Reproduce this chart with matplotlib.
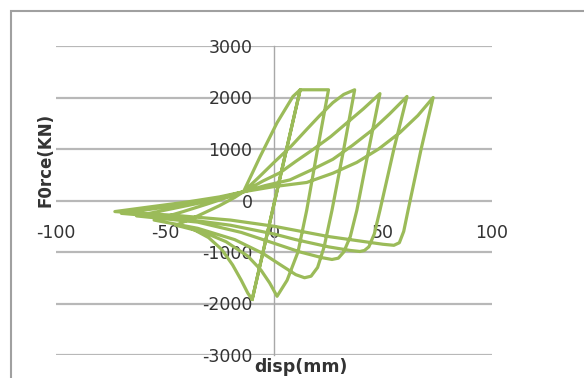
import numpy as np
import matplotlib.pyplot as plt
from matplotlib.patches import Rectangle

plt.rcParams['axes.unicode_minus'] = False

# hysteresis path (disp mm, force kN)
init_x = [-37, -30, -24, -19, -15, -12, -10, 12, 25]
init_y = [-560, -720, -950, -1250, -1550, -1800, -1920, 2150, 2150]

c1_x = [20, 15, 11, 6, 1.4, -2, -6, -12, -22, -32, -45]
c1_y = [1000, -190, -1000, -1550, -1860, -1600, -1350, -1080, -800, -620, -480]
r2_x = [-35, -25, -18, -14, -7, 0, 8, 15, 21, 27, 32, 37]
r2_y = [-300, -100, 60, 170, 450, 740, 1060, 1380, 1650, 1900, 2060, 2150]

c2_x = [32, 26.6, 23, 20, 17, 14, 10, 3, -5, -18, -35, -55]
c2_y = [1000, -190, -900, -1300, -1470, -1500, -1440, -1250, -1030, -760, -540, -380]
r3_x = [-42, -30, -20, -14, -5, 2.8, 10, 17.9, 26, 33.5, 41, 48.6]
r3_y = [-220, -60, 80, 170, 380, 540, 760, 990, 1240, 1510, 1780, 2075]

c3_x = [43.5, 38, 35, 32, 29.5, 26.6, 22, 12, 0, -15, -35, -63]
c3_y = [1000, -190, -700, -1000, -1120, -1145, -1110, -1000, -830, -620, -420, -300]
r4_x = [-48, -32, -20, -14, -4, 7.3, 17, 27, 36, 45.4, 53, 61]
r4_y = [-170, -30, 90, 170, 290, 400, 590, 800, 1070, 1380, 1680, 2020]

c4_x = [55, 48.6, 46, 43.5, 41.5, 39.4, 35, 25, 10, 0, -20, -45, -70]
c4_y = [1000, -190, -650, -900, -970, -990, -970, -900, -760, -650, -480, -340, -250]
r5_x = [-55, -38, -24, -14, 0, 15, 27, 38, 48, 57.8, 66, 73]
r5_y = [-160, -50, 60, 170, 270, 350, 530, 740, 1000, 1320, 1650, 2000]

c5_x = [67.5, 61.5, 59.5, 57.5, 55, 50, 40, 25, 10, 0, -20, -45, -73]
c5_y = [1000, -190, -600, -820, -870, -850, -790, -700, -580, -500, -380, -290, -215]
r6_x = [-58, -40, -25, -14, -6.4, 1.4, 8.7, 12, -10]
r6_y = [-130, -30, 70, 170, 850, 1510, 2020, 2150, -1920]

x_ticks = [-100, -50, 0, 50, 100]
y_ticks = [-3000, -2000, -1000, 0, 1000, 2000, 3000]

disp = np.concatenate([init_x, c1_x, r2_x, c2_x, r3_x, c3_x, r4_x, c4_x, r5_x, c5_x, r6_x])
force = np.concatenate([init_y, c1_y, r2_y, c2_y, r3_y, c3_y, r4_y, c4_y, r5_y, c5_y, r6_y])

fig = plt.figure(figsize=(5.84, 3.78), dpi=100)
ax = fig.add_axes([56/584, 1-355/378, 436/584, 309/378])

ax.plot(disp, force, color='#9BBB59', lw=2.3, solid_joinstyle='round', zorder=3)

ax.set_xlim(-100, 100)
ax.set_ylim(-3000, 3000)
ax.set_xticks(x_ticks)
ax.set_yticks(y_ticks)
ax.grid(axis='y', color='#b8b8b8', lw=1.6)
ax.grid(axis='x', visible=False)

for s in ['top', 'right', 'bottom']:
    ax.spines[s].set_visible(False)
ax.spines['left'].set_position(('data', 0))
ax.spines['left'].set_color('#a8a8a8')
ax.spines['left'].set_linewidth(1.0)
ax.spines['bottom'].set_position(('data', 0))

ax.tick_params(axis='x', length=0, pad=17, labelsize=12.5, labelcolor='#333333')
ax.tick_params(axis='y', length=0, pad=15.5, labelsize=12.5, labelcolor='#333333')
ax.patch.set_alpha(0)

fig.text(45/584, 1-160/378, 'F0rce(KN)', rotation=90, ha='center', va='center',
         fontsize=12, fontweight='bold', color='#333333')
fig.text(301/584, 1-367/378, 'disp(mm)', ha='center', va='center',
         fontsize=12.5, fontweight='bold', color='#333333')

# chart frame (runs off the right and bottom edges)
fig.patches.append(Rectangle((11/584, -0.05), 1.0, 1-11/378+0.05, transform=fig.transFigure,
                             fill=False, edgecolor='#a0a0a0', lw=1.5))

fig.savefig('out.png', dpi=100)
